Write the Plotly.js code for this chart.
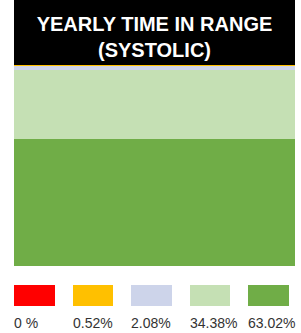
<!DOCTYPE html>
<html>
<head>
<meta charset="utf-8">
<script src="https://cdn.plot.ly/plotly-3.0.1.min.js"></script>
<style>html,body{margin:0;padding:0;background:#fff;}#chart{width:301px;height:333px;}</style>
</head>
<body>
<div id="chart"></div>
<script>
// Data (top of stack first)
var rangeNames = ['Very High', 'High', 'Elevated', 'Normal', 'Target'];
var percentValues = [0, 0.52, 2.08, 34.38, 63.02];
var percentLabels = ['0 %', '0.52%', '2.08%', '34.38%', '63.02%'];
var barCategory = ['Yearly'];
var titleText = 'YEARLY TIME IN RANGE<br>(SYSTOLIC)';

// Styles
var rangeColors = ['#FF0000', '#FFC000', '#CDD4EA', '#C5E0B4', '#70AD47'];
var H = 333;
function fy(px) { return (H - px) / H; }

var traces = [];
// stacked bar: bottom first
for (var i = percentValues.length - 1; i >= 0; i--) {
  traces.push({
    type: 'bar', x: barCategory, y: [percentValues[i]], name: rangeNames[i],
    marker: { color: rangeColors[i], line: { width: 0 } },
    xaxis: 'x', yaxis: 'y', hoverinfo: 'none', showlegend: false
  });
}
// legend swatches
traces.push({
  type: 'bar', x: rangeNames, y: rangeNames.map(function () { return 1; }),
  width: 0.7, marker: { color: rangeColors, line: { width: 0 } },
  xaxis: 'x2', yaxis: 'y2', hoverinfo: 'none', showlegend: false
});

var annotations = rangeNames.map(function (n, k) {
  return {
    x: k, xref: 'x2', xanchor: 'left', xshift: -21.5,
    y: fy(322.5), yref: 'paper', yanchor: 'middle',
    text: percentLabels[k], showarrow: false, borderpad: 0,
    font: { family: 'Liberation Sans', size: 14, color: '#333333' }
  };
});

var hidden = { showgrid: false, zeroline: false, showticklabels: false, showline: false, ticks: '', fixedrange: true };

var layout = {
  width: 301, height: 333,
  margin: { l: 14, r: 6, t: 0, b: 0, pad: 0 },
  paper_bgcolor: '#ffffff', plot_bgcolor: 'rgba(0,0,0,0)',
  barmode: 'stack', bargap: 0,
  showlegend: false,
  title: {
    text: titleText, x: 0.5, xref: 'paper', xanchor: 'center',
    y: 1 - 30.5 / H, yref: 'container', yanchor: 'middle',
    font: { family: 'Liberation Sans', size: 20, color: '#ffffff', weight: 'bold' }
  },
  xaxis: Object.assign({ domain: [0, 1], type: 'category' }, hidden),
  yaxis: Object.assign({ domain: [fy(266), fy(65)], range: [0, 100] }, hidden),
  xaxis2: Object.assign({ domain: [0, 1], type: 'category', range: [-0.3504, 4.453], anchor: 'y2' }, hidden),
  yaxis2: Object.assign({ domain: [fy(306), fy(285)], range: [0, 1], anchor: 'x2' }, hidden),
  shapes: [{
    type: 'rect', xref: 'paper', yref: 'paper', x0: 0, x1: 1, y0: fy(65), y1: 1,
    fillcolor: '#000000', line: { width: 0 }, layer: 'below'
  }],
  annotations: annotations
};

Plotly.newPlot('chart', traces, layout, { displayModeBar: false, staticPlot: true });
</script>
</body>
</html>
